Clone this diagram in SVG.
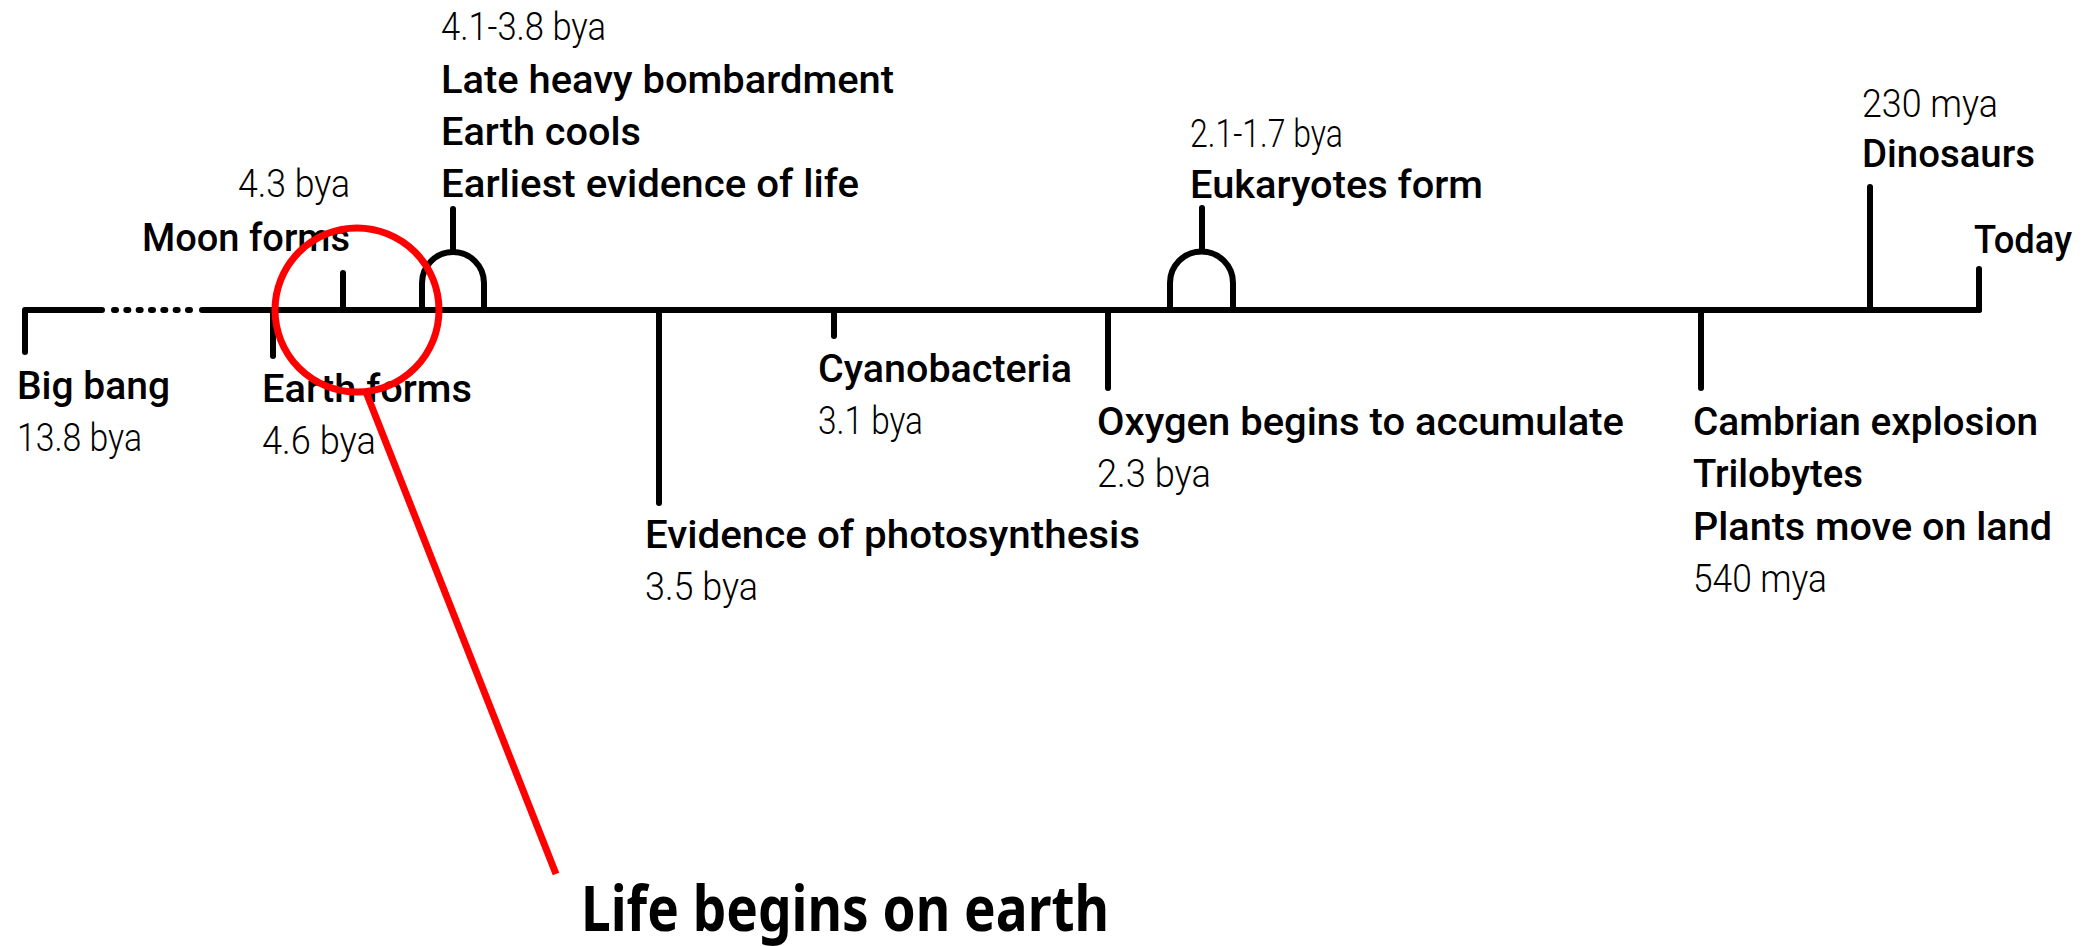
<svg xmlns="http://www.w3.org/2000/svg" width="2085" height="946" viewBox="0 0 2085 946">
<style>
.ln{fill:none;stroke:#000;stroke-width:6;stroke-linecap:round;stroke-linejoin:round}
.lb{font-family:Roboto,"Liberation Sans Narrow","Liberation Sans",sans-serif;font-weight:500;font-size:38px;fill:#000}
.dt{font-family:Roboto,"Liberation Sans Narrow","Liberation Sans",sans-serif;font-weight:300;font-size:38px;fill:#000}
.red{fill:none;stroke:#ff0000;stroke-width:7}
.big{font-family:"Noto Sans","Open Sans",sans-serif;font-weight:700;font-size:62px;fill:#000}
</style>
<rect width="2085" height="946" fill="#fff"/>
<g id="connectors">
<path class="ln" d="M25,352 V310 H102"/>
<line class="ln" x1="114" y1="310" x2="190" y2="310" stroke-width="7" stroke-dasharray="2 10.33"/>
<line class="ln" x1="202" y1="310" x2="1979" y2="310"/>
<line class="ln" x1="1979" y1="310" x2="1979" y2="269"/>
</g>
<g id="big-bang">
<text class="lb" x="17" y="399" textLength="153" lengthAdjust="spacingAndGlyphs">Big bang</text>
<text class="dt" x="17" y="451" textLength="125" lengthAdjust="spacingAndGlyphs">13.8 bya</text>
</g>
<g id="earth-forms">
<line class="ln" x1="273" y1="310" x2="273" y2="356"/>
<text class="lb" x="262" y="402" textLength="210" lengthAdjust="spacingAndGlyphs">Earth forms</text>
<text class="dt" x="262" y="454" textLength="114" lengthAdjust="spacingAndGlyphs">4.6 bya</text>
</g>
<g id="moon-forms">
<line class="ln" x1="343" y1="310" x2="343" y2="273"/>
<text class="dt" x="238" y="197" textLength="112" lengthAdjust="spacingAndGlyphs">4.3 bya</text>
<text class="lb" x="142" y="251" textLength="208" lengthAdjust="spacingAndGlyphs">Moon forms</text>
</g>
<g id="late-heavy-bombardment">
<path class="ln" d="M422,310 V283 A31,31 0 0 1 484,283 V310"/>
<line class="ln" x1="453" y1="252" x2="453" y2="209"/>
<text class="dt" x="441" y="40" textLength="165" lengthAdjust="spacingAndGlyphs">4.1-3.8 bya</text>
<text class="lb" x="441" y="93" textLength="453" lengthAdjust="spacingAndGlyphs">Late heavy bombardment</text>
<text class="lb" x="441" y="145" textLength="200" lengthAdjust="spacingAndGlyphs">Earth cools</text>
<text class="lb" x="441" y="197" textLength="418" lengthAdjust="spacingAndGlyphs">Earliest evidence of life</text>
</g>
<g id="photosynthesis">
<line class="ln" x1="659" y1="310" x2="659" y2="503"/>
<text class="lb" x="645" y="548" textLength="495" lengthAdjust="spacingAndGlyphs">Evidence of photosynthesis</text>
<text class="dt" x="645" y="600" textLength="113" lengthAdjust="spacingAndGlyphs">3.5 bya</text>
</g>
<g id="cyanobacteria">
<line class="ln" x1="834" y1="310" x2="834" y2="336"/>
<text class="lb" x="818" y="382" textLength="254" lengthAdjust="spacingAndGlyphs">Cyanobacteria</text>
<text class="dt" x="818" y="434" textLength="105" lengthAdjust="spacingAndGlyphs">3.1 bya</text>
</g>
<g id="oxygen">
<line class="ln" x1="1108" y1="310" x2="1108" y2="388"/>
<text class="lb" x="1097" y="435" textLength="527" lengthAdjust="spacingAndGlyphs">Oxygen begins to accumulate</text>
<text class="dt" x="1097" y="487" textLength="114" lengthAdjust="spacingAndGlyphs">2.3 bya</text>
</g>
<g id="eukaryotes">
<path class="ln" d="M1170,310 V283 A31.5,31.5 0 0 1 1233,283 V310"/>
<line class="ln" x1="1202" y1="251" x2="1202" y2="208"/>
<text class="dt" x="1190" y="147" textLength="153" lengthAdjust="spacingAndGlyphs">2.1-1.7 bya</text>
<text class="lb" x="1190" y="198" textLength="293" lengthAdjust="spacingAndGlyphs">Eukaryotes form</text>
</g>
<g id="cambrian">
<line class="ln" x1="1701" y1="310" x2="1701" y2="388"/>
<text class="lb" x="1693" y="435" textLength="345" lengthAdjust="spacingAndGlyphs">Cambrian explosion</text>
<text class="lb" x="1693" y="487" textLength="170" lengthAdjust="spacingAndGlyphs">Trilobytes</text>
<text class="lb" x="1693" y="540" textLength="359" lengthAdjust="spacingAndGlyphs">Plants move on land</text>
<text class="dt" x="1693" y="592" textLength="134" lengthAdjust="spacingAndGlyphs">540 mya</text>
</g>
<g id="dinosaurs">
<line class="ln" x1="1870" y1="310" x2="1870" y2="187"/>
<text class="dt" x="1862" y="117" textLength="136" lengthAdjust="spacingAndGlyphs">230 mya</text>
<text class="lb" x="1862" y="167" textLength="173" lengthAdjust="spacingAndGlyphs">Dinosaurs</text>
</g>
<g id="today">
<text class="lb" x="1974" y="253" textLength="98" lengthAdjust="spacingAndGlyphs">Today</text>
</g>
<g id="life-begins">
<circle class="red" cx="357" cy="310" r="82"/>
<line class="red" x1="366" y1="392" x2="556" y2="874" stroke-width="6"/>
<text class="big" x="581" y="931" textLength="528" lengthAdjust="spacingAndGlyphs">Life begins on earth</text>
</g>
</svg>
